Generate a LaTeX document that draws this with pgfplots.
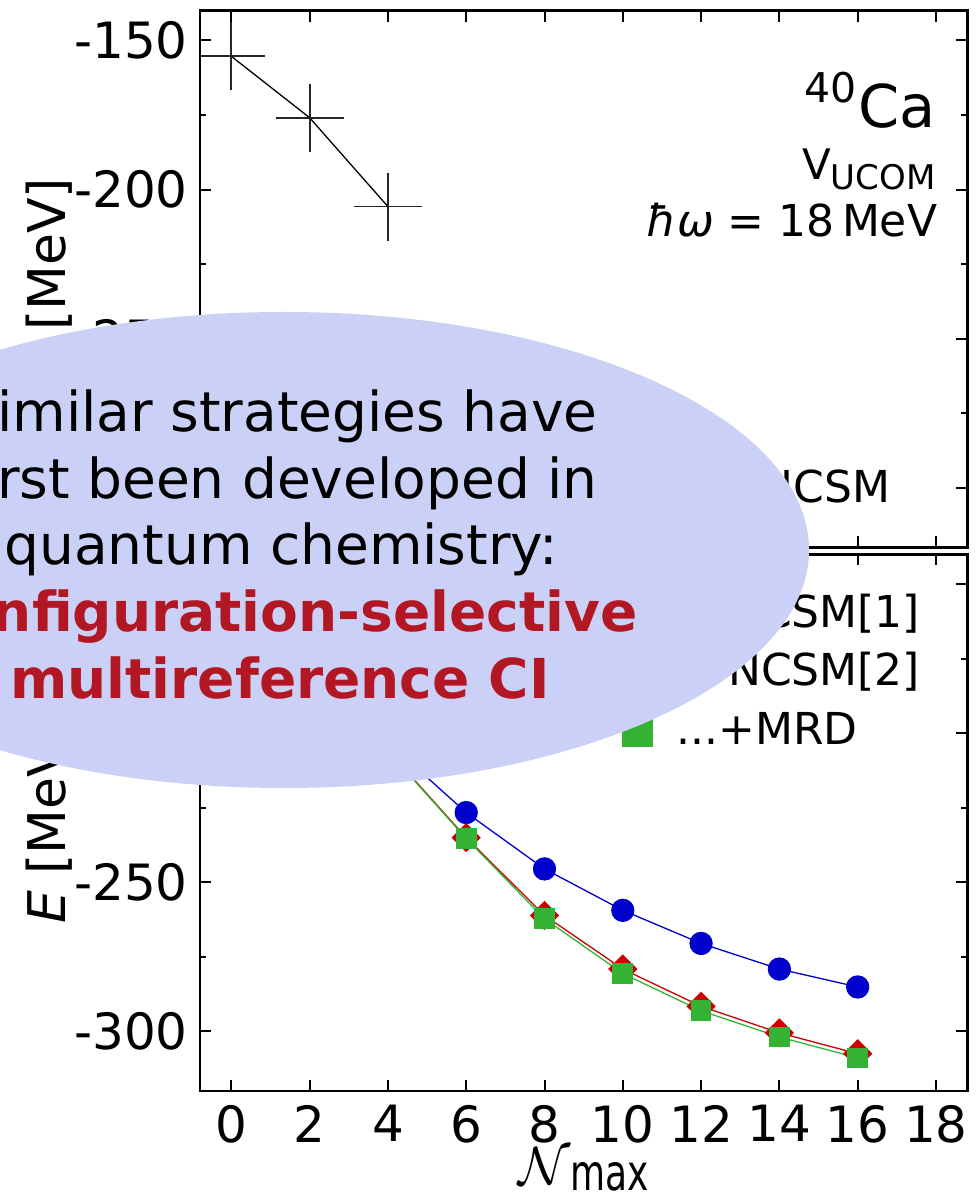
\documentclass[border=0pt]{standalone}
\usepackage{fontspec}
\setmainfont{DejaVu Sans}
\usepackage{graphicx}
\usepackage{pgfplots}
\pgfplotsset{compat=1.18}

\newcommand\fs[1]{\fontsize{#1bp}{#1bp}\selectfont}

\definecolor{ncsmblue}{RGB}{0,0,204}
\definecolor{ncsmred}{RGB}{204,0,0}
\definecolor{mrdgreen}{RGB}{51,178,51}
\definecolor{bubble}{RGB}{203,208,246}
\definecolor{accent}{RGB}{178,24,36}

\pgfplotsset{
  panel/.style={
    scale only axis,
    width=767.3bp, height=536.6bp,
    xmin=-0.8, xmax=18.8, ymin=-320, ymax=-140,
    xtick={0,2,4,6,8,10,12,14,16,18},
    ytick={-300,-250,-200,-150},
    yticklabels={-300,-250,-200,-150},
    minor ytick={-275,-225,-175},
    tick align=inside,
    major tick length=11bp, minor tick length=6bp,
    every tick/.style={black, line width=2bp},
    axis line style={line width=2.6bp},
    tick label style={font=\fs{50}},
    yticklabel style={inner sep=0pt, xshift=-12bp},
    xticklabel style={inner sep=0pt, yshift=-14bp},
    ylabel={\textit{E} [MeV]},
    ylabel style={at={(axis description cs:-0.1655,0.5)}, anchor=south,
                  inner sep=0pt, font=\fs{52}},
    legend cell align=left,
    legend image code/.code={\draw[##1] plot coordinates {(0bp,0bp)};},
    legend style={draw=none, fill=none, inner sep=0pt, outer sep=0pt,
                  font=\fs{44}, row sep=18.5bp, column sep=19bp,
                  nodes={inner sep=0pt, text height=33.5bp, text depth=6bp}},
  }
}

\begin{document}
\begin{tikzpicture}

% upper panel: full NCSM
\begin{axis}[panel, at={(200bp,648.7bp)}, anchor=south west,
  xticklabels={}, clip marker paths=true,
  legend style={at={(axis description cs:0.667,0.145)}, anchor=north west}]
\addplot[black, line width=1.3bp, mark=+, mark size=34bp,
  mark options={line width=1.8bp, black!85}, forget plot]
  coordinates {(0,-155.3) (2,-175.9) (4,-205.7)};
\addlegendimage{black, mark=+, mark size=15bp, mark options={line width=1.8bp}}
\addlegendentry{NCSM}
\node[anchor=base east, inner sep=0pt] at (axis description cs:0.959,0.7814)
  {\fs{59}\raisebox{25bp}{\fs{41}40}\kern2bp Ca};
\node[anchor=base east, inner sep=0pt, font=\fs{42}] at (axis description cs:0.959,0.6845)
  {V\raisebox{-10bp}{\fs{34}UCOM}};
\node[anchor=base east, inner sep=0pt, font=\fs{44}] at (axis description cs:0.961,0.5784)
  {\textit{ħω} = 18\,MeV};
\end{axis}

% lower panel: importance-truncated NCSM
\begin{axis}[panel, at={(200bp,105bp)}, anchor=south west,
  xticklabels={0,2,4,6,8,10,12,14,16,18},
  xlabel={{\normalsize\scalebox{5.4}{$\mathcal{N}$}}\raisebox{-6bp}{\scalebox{0.72}[1]{\fs{50}max}}},
  xlabel style={at={(axis description cs:0.5,0)}, anchor=north, inner sep=0pt, yshift=-57bp},
  legend style={at={(axis description cs:0.5428,0.927)}, anchor=north west}]
\addplot[ncsmblue, line width=1.3bp, mark=*, mark size=11bp, forget plot]
  coordinates {(0,-155.5) (2,-176.2) (4,-203.0) (6,-226.6) (8,-245.5)
               (10,-259.4) (12,-270.5) (14,-279.1) (16,-285.1)};
\addplot[ncsmred, line width=1.3bp, mark=square*, mark size=9.7bp,
  mark options={rotate=45}, forget plot]
  coordinates {(0,-155.4) (2,-176.0) (4,-205.8) (6,-235.0) (8,-261.1)
               (10,-279.1) (12,-291.6) (14,-300.5) (16,-307.5)};
\addplot[mrdgreen, line width=1.3bp, mark=square*, mark size=9.7bp, forget plot]
  coordinates {(0,-155.5) (2,-176.2) (4,-206.0) (6,-235.3) (8,-262.2)
               (10,-280.6) (12,-293.1) (14,-301.9) (16,-308.9)};
\addlegendimage{ncsmblue, mark=*, mark size=16.5bp}
\addlegendentry{IT-NCSM[1]}
\addlegendimage{ncsmred, mark=square*, mark size=14.5bp, mark options={rotate=45}}
\addlegendentry{IT-NCSM[2]}
\addlegendimage{mrdgreen, mark=square*, mark size=15bp}
\addlegendentry{...+MRD}
\end{axis}

% overlay bubble
\begin{scope}
\clip (0,0) rectangle (976bp,1196bp);
\fill[bubble] (284bp,646bp) ellipse [x radius=525bp, y radius=238bp];
\end{scope}
\begin{scope}[every node/.style={anchor=base, inner sep=0pt, font=\fs{55}}]
\node at (280bp,764.3bp) {Similar strategies have};
\node at (280bp,697.7bp) {first been developed in};
\node at (281bp,631bp) {quantum chemistry:};
\node[text=accent, font=\fs{55}\bfseries] at (280bp,564.3bp) {configuration-selective};
\node[text=accent, font=\fs{55}\bfseries] at (280bp,497.7bp) {multireference CI};
\end{scope}

\pgfresetboundingbox
\path[use as bounding box] (0,0) rectangle (976bp,1196bp);
\end{tikzpicture}
\end{document}
